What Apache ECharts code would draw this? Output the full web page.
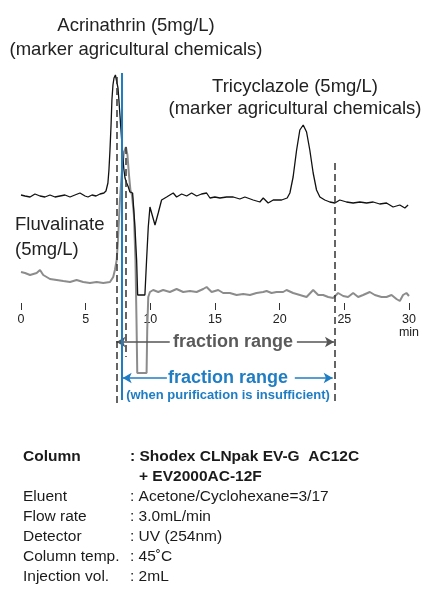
<!DOCTYPE html>
<html>
<head>
<meta charset="utf-8">
<script src="https://cdn.jsdelivr.net/npm/echarts@6/dist/echarts.min.js"></script>
<style>
html,body{margin:0;padding:0;background:#fff;}
#chart{width:423px;height:600px;}
</style>
</head>
<body>
<div id="chart"></div>
<script>
// ---- data (time in min, detector signal in arbitrary units) ----
const xTicks = [0, 5, 10, 15, 20, 25, 30];

const blackTrace = [
  [0.00,108],[0.31,107],[0.70,106],[1.08,109],[1.47,107],[1.85,106],[2.24,108],[2.63,106],
  [3.01,107],[3.40,108],[3.79,106],[4.17,108],[4.56,110],[4.71,111],[4.95,107],[5.18,106],
  [5.49,108],[5.80,107],[6.11,109],[6.41,110],[6.57,112],[6.72,120],[6.80,133],[6.88,153],
  [6.96,177],[7.03,203],[7.11,218],[7.19,225],[7.30,228],[7.42,226],[7.50,215],[7.57,203],
  [7.65,188],[7.73,173],[7.81,158],[7.88,145],[7.96,133],[8.04,125],[8.17,120],[8.30,116],
  [8.42,111],[8.63,110],[8.81,76],[8.94,43],[9.02,8],[9.58,8],[9.71,43],[9.84,76],
  [9.97,96],[10.10,90],[10.36,78],[10.61,90],[10.87,103],[11.26,106],[11.51,108],[11.77,110],
  [12.03,106],[12.42,109],[12.81,107],[13.19,110],[13.58,107],[13.96,109],[14.35,110],[14.61,105],
  [14.99,106],[15.38,105],[15.90,106],[16.41,106],[16.92,104],[17.31,106],[17.95,103],[18.47,101],
  [18.73,105],[19.11,100],[19.50,103],[20.15,103],[20.58,105],[20.79,110],[21.04,126],[21.31,153],
  [21.56,173],[21.82,178],[22.08,171],[22.33,153],[22.59,130],[22.85,113],[23.11,106],[23.49,103],
  [23.88,101],[24.27,100],[24.65,103],[25.17,101],[25.68,100],[26.20,101],[26.72,100],[27.23,101],
  [27.74,99],[28.26,100],[28.77,96],[29.29,98],[29.68,95],[29.93,98]
];

const grayTrace = [
  [0.00,31],[0.31,30],[0.70,28],[1.21,30],[1.47,33],[1.72,28],[2.24,24],[2.76,23],
  [3.27,22],[3.79,21],[4.30,23],[4.81,21],[5.33,20],[5.85,21],[6.36,20],[6.88,21],
  [7.13,26],[7.26,33],[7.40,43],[7.50,63],[7.65,103],[7.81,133],[7.96,151],[8.11,156],
  [8.23,148],[8.35,128],[8.46,113],[8.58,108],[8.73,88],[8.85,43],[8.93,-17],[8.99,-70],
  [9.71,-70],[9.76,-27],[9.84,6],[9.97,11],[10.22,13],[10.61,11],[10.99,13],[11.51,11],
  [12.03,14],[12.54,11],[13.06,12],[13.58,11],[14.09,14],[14.35,16],[14.74,11],[15.25,13],
  [15.63,10],[16.15,10],[16.67,8],[17.18,9],[17.70,8],[18.21,10],[18.72,11],[18.99,12],
  [19.37,10],[19.76,11],[20.27,11],[20.53,13],[21.04,10],[21.56,8],[22.08,6],[22.59,13],
  [22.98,8],[23.36,8],[23.75,6],[24.13,5],[24.52,10],[24.91,7],[25.29,6],[25.68,10],
  [26.07,6],[26.45,8],[26.97,11],[27.36,8],[27.87,6],[28.26,6],[28.65,8],[29.03,4],
  [29.29,2],[29.54,8],[29.80,10],[30.00,7]
];

// fraction cut times (min)
const fractionStart = 7.38;
const fractionStartAlt = 7.81;
const fluvalinatePeak = 8.11;
const fractionEnd = 24.27;

const specLabels = ['Column', '', 'Eluent', 'Flow rate', 'Detector', 'Column temp.', 'Injection vol.'];
const specValues = [': Shodex CLNpak EV-G  AC12C', '+ EV2000AC-12F', ': Acetone/Cyclohexane=3/17',
  ': 3.0mL/min', ': UV (254nm)', ': 45\u02daC', ': 2mL'];

// ---- chart ----
const FONT = "'Liberation Sans', Arial, Helvetica, sans-serif";
const BLUE = '#1f7dc4';
const DASH = {color: '#333', width: 1.5, type: [7, 4]};
const chart = echarts.init(document.getElementById('chart'), null, {renderer: 'canvas'});

function seg(x1, y1, x2, y2, style, s1, s2) {
  return [
    {coord: [x1, y1], symbol: s1 || 'none', lineStyle: style},
    {coord: [x2, y2], symbol: s2 || 'none'}
  ];
}

const graphics = [];
function txt(x, y, text, opt) {
  graphics.push({
    type: 'text', x: x, y: y, z: 100, silent: true,
    style: Object.assign({
      text: text, fill: '#222', font: '18.5px ' + FONT,
      align: 'left', verticalAlign: 'middle'
    }, opt || {})
  });
}
txt(136, 26, 'Acrinathrin (5mg/L)', {align: 'center'});
txt(136, 50, '(marker agricultural chemicals)', {align: 'center'});
txt(295, 87, 'Tricyclazole (5mg/L)', {align: 'center'});
txt(295, 109, '(marker agricultural chemicals)', {align: 'center'});
txt(15, 225, 'Fluvalinate');
txt(15, 250, '(5mg/L)');
txt(409, 333, 'min', {align: 'center', font: '12.5px ' + FONT});
txt(233, 342, 'fraction range', {align: 'center', fill: '#5a5a5a', font: 'bold 18px ' + FONT});
txt(228, 378, 'fraction range', {align: 'center', fill: BLUE, font: 'bold 18px ' + FONT});
txt(228, 395, '(when purification is insufficient)', {align: 'center', fill: BLUE, font: 'bold 13px ' + FONT});

specLabels.forEach(function (lab, i) {
  const y = 457 + i * 20;
  const bold = i < 2;
  const f = (bold ? 'bold ' : '') + '15.5px ' + FONT;
  if (lab) txt(23, y, lab, {font: f, fill: '#1a1a1a'});
  txt(i === 1 ? 139 : 130, y, specValues[i], {font: f, fill: '#1a1a1a'});
});

const option = {
  animation: false,
  backgroundColor: '#fff',
  grid: [
    {left: 21, right: 14, top: 60, bottom: 190, containLabel: false},
    {left: 21, right: 14, top: 302, height: 1, containLabel: false}
  ],
  xAxis: [
    {gridIndex: 0, type: 'value', min: 0, max: 30, interval: 5, show: false},
    {
      gridIndex: 1, type: 'value', min: 0, max: 30, interval: 5, position: 'bottom',
      axisLine: {show: false, onZero: false},
      axisTick: {show: true, length: 7, inside: false, lineStyle: {color: '#333', width: 1}},
      splitLine: {show: false},
      axisLabel: {
        margin: 10, color: '#222', fontSize: 12.5, fontFamily: FONT,
        formatter: function (v) { return xTicks.indexOf(v) >= 0 ? String(v) : ''; }
      }
    }
  ],
  yAxis: [
    {gridIndex: 0, type: 'value', min: -107, max: 243, show: false},
    {gridIndex: 1, type: 'value', min: 0, max: 1, show: false}
  ],
  series: [
    {
      name: 'Fluvalinate', type: 'line', data: grayTrace, showSymbol: false,
      xAxisIndex: 0, yAxisIndex: 0, clip: false, z: 2,
      lineStyle: {color: '#8c8c8c', width: 2},
      markLine: {
        silent: true, animation: false, symbolSize: [8, 9], label: {show: false},
        data: [
          seg(fractionStart, -39, 11.5, -39, {color: '#555', width: 1.5, type: 'solid'}, 'arrow', 'none'),
          seg(21.33, -39, fractionEnd - 0.07, -39, {color: '#555', width: 1.5, type: 'solid'}, 'none', 'arrow'),
          seg(fractionStartAlt + 0.05, -75, 11.28, -75, {color: BLUE, width: 1.5, type: 'solid'}, 'arrow', 'none'),
          seg(21.17, -75, fractionEnd - 0.17, -75, {color: BLUE, width: 1.5, type: 'solid'}, 'none', 'arrow')
        ]
      }
    },
    {
      name: 'Acrinathrin / Tricyclazole', type: 'line', data: blackTrace, showSymbol: false,
      xAxisIndex: 0, yAxisIndex: 0, clip: false, z: 3,
      lineStyle: {color: '#111', width: 1.3},
      markLine: {
        silent: true, animation: false, symbol: 'none', label: {show: false},
        data: [
          seg(fractionStart, 226, fractionStart, -100, DASH),
          seg(fluvalinatePeak, 156, fluvalinatePeak, -54, DASH),
          seg(fractionEnd, 140, fractionEnd, -100, DASH),
          seg(fractionStartAlt, 230, fractionStartAlt, -97, {color: BLUE, width: 2, type: 'solid'})
        ]
      }
    }
  ],
  graphic: graphics
};
chart.setOption(option);
</script>
</body>
</html>
